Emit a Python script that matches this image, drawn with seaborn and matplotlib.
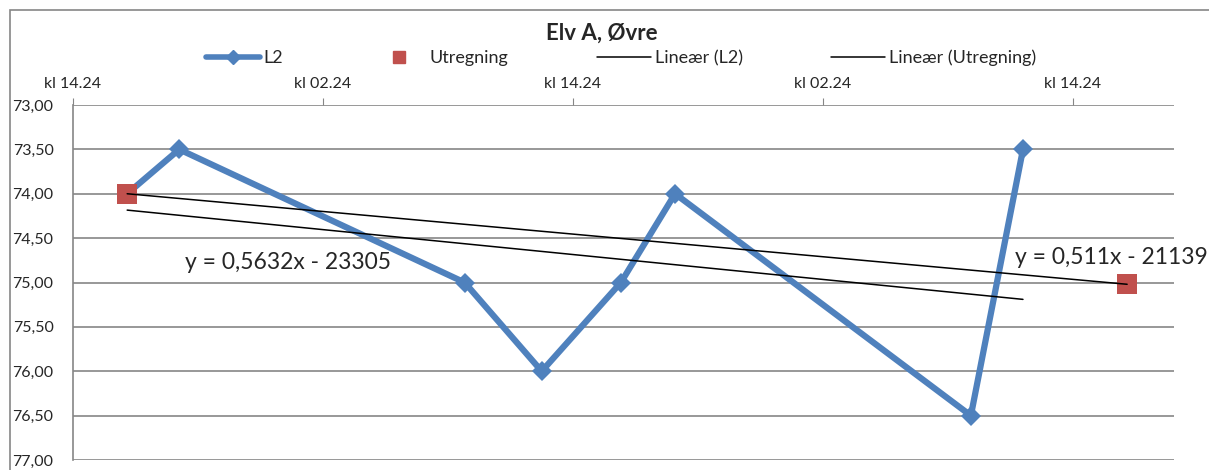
import matplotlib
matplotlib.use("Agg")
import matplotlib.pyplot as plt
import matplotlib.lines as mlines
import matplotlib.patches as mpatches
import seaborn as sns
import pandas as pd

# --- data (hours after first "kl 14.24" tick) ---
l2_hours = [2.6, 5.1, 18.8, 22.5, 26.3, 28.9, 43.1, 45.6]
l2_level = [74.0, 73.5, 75.0, 76.0, 75.0, 74.0, 76.5, 73.5]
utr_hours = [2.6, 50.6]
utr_level = [74.0, 75.02]

x_ticks = [0, 12, 24, 36, 48]
x_labels = ["kl 14.24", "kl 02.24", "kl 14.24", "kl 02.24", "kl 14.24"]
y_ticks = [73.0, 73.5, 74.0, 74.5, 75.0, 75.5, 76.0, 76.5, 77.0]
y_labels = ["73,00", "73,50", "74,00", "74,50", "75,00", "75,50", "76,00", "76,50", "77,00"]

eq_l2 = "y = 0,5632x - 23305"
eq_utr = "y = 0,511x - 21139"

df_l2 = pd.DataFrame({"t": l2_hours, "niva": l2_level})
df_utr = pd.DataFrame({"t": utr_hours, "niva": utr_level})

sns.set_style("white")
plt.rcParams["font.family"] = ["Lato", "DejaVu Sans"]

blue = "#4F81BD"
red = "#C0504D"
grey = "#868686"

fig = plt.figure(figsize=(12.09, 4.70), dpi=100)
ax = fig.add_axes([73 / 1209, 10 / 470, (1174 - 73) / 1209, 355 / 470])

# ramme rundt diagrammet
fig.patches.append(mpatches.Rectangle((10 / 1209, -0.1), 1.2, 460 / 470 + 0.1,
                                      transform=fig.transFigure, fill=False,
                                      edgecolor=grey, lw=1.2, zorder=0))

for yv in y_ticks:
    ax.axhline(yv, color=grey, lw=1.2, zorder=0)

sns.lineplot(data=df_l2, x="t", y="niva", color=blue, lw=4.5, marker="D",
             markersize=10, markeredgewidth=0, sort=False, ax=ax, zorder=3)
sns.scatterplot(data=df_utr, x="t", y="niva", color=red, marker="s", s=200,
                linewidth=0, ax=ax, zorder=4)

# lineære trendlinjer
sns.regplot(data=df_l2, x="t", y="niva", scatter=False, ci=None, ax=ax,
            line_kws=dict(color="black", lw=1.1, zorder=5))
sns.regplot(data=df_utr, x="t", y="niva", scatter=False, ci=None, ax=ax,
            line_kws=dict(color="black", lw=1.1, zorder=5))

ax.text(5.4, 74.77, eq_l2, fontsize=16.5, va="center", ha="left")
ax.text(45.2, 74.72, eq_utr, fontsize=16.5, va="center", ha="left")

ax.set_xlim(0, 52.85)
ax.set_ylim(77.0, 73.0)
ax.set_xticks(x_ticks)
ax.set_xticklabels(x_labels, fontsize=11.5)
ax.set_yticks(y_ticks)
ax.set_yticklabels(y_labels, fontsize=11.5)
ax.xaxis.tick_top()
ax.tick_params(axis="x", direction="out", length=5, color=grey, pad=5)
ax.tick_params(axis="y", direction="out", length=5, color=grey, pad=9)
ax.set_xlabel("")
ax.set_ylabel("")
for s in ["right", "bottom", "top"]:
    ax.spines[s].set_visible(False)
ax.spines["left"].set_color(grey)
ax.spines["left"].set_linewidth(1.2)

fig.text(602 / 1209, 1 - 33 / 470, "Elv A, Øvre", fontsize=16, fontweight="bold",
         ha="center", va="center")

handles = [
    mlines.Line2D([], [], color=blue, lw=4, marker="D", markersize=7),
    mlines.Line2D([], [], color=red, lw=0, marker="s", markersize=9),
    mlines.Line2D([], [], color="black", lw=1.1),
    mlines.Line2D([], [], color="black", lw=1.1),
]
labels = ["L2", "Utregning", "Lineær (L2)", "Lineær (Utregning)"]
fig.legend(handles, labels, loc="center", bbox_to_anchor=(621 / 1209, 1 - 58 / 470),
           ncol=4, frameon=False, fontsize=13, handlelength=3.0, handletextpad=0.2,
           columnspacing=4.9)

plt.savefig("out.png", dpi=100)
